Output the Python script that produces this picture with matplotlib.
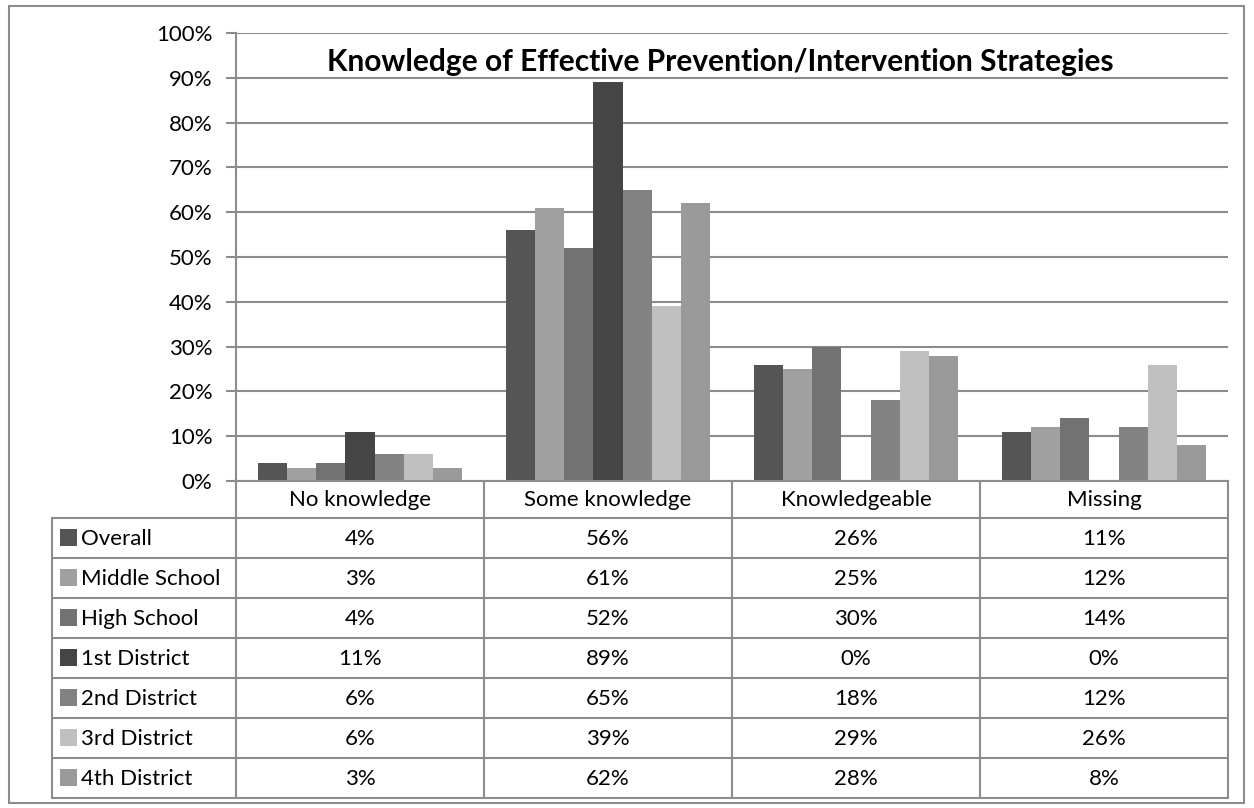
import matplotlib
matplotlib.use("Agg")
import matplotlib.pyplot as plt
from matplotlib.patches import Rectangle

# response categories and groups
categories = ["No knowledge", "Some knowledge", "Knowledgeable", "Missing"]
groups = ["Overall", "Middle School", "High School", "1st District",
          "2nd District", "3rd District", "4th District"]

# percent of respondents per group, one list per category column
overall = [4, 56, 26, 11]
middle_school = [3, 61, 25, 12]
high_school = [4, 52, 30, 14]
district_1 = [11, 89, 0, 0]
district_2 = [6, 65, 18, 12]
district_3 = [6, 39, 29, 26]
district_4 = [3, 62, 28, 8]

series = [overall, middle_school, high_school, district_1,
          district_2, district_3, district_4]
shades = ["#555555", "#a0a0a0", "#727272", "#454545",
          "#828282", "#c0c0c0", "#9a9a9a"]

yticks = list(range(0, 101, 10))

FONT = "Lato"
FS = 16
LINE = "#8c8c8c"
W, H = 1254, 808


def fx(px):
    return px / W


def fy(py):
    return 1 - py / H


fig = plt.figure(figsize=(12.54, 8.08), dpi=100)
fig.patch.set_facecolor("white")

# chart border
fig.patches.append(Rectangle((fx(9), fy(803)), fx(1244) - fx(9), fy(6) - fy(803),
                             transform=fig.transFigure, fill=False,
                             edgecolor=LINE, linewidth=1.5))

# bar area
left, right, top, base = 236, 1228, 33, 481
ax = fig.add_axes([fx(left), fy(base), fx(right) - fx(left), fy(top) - fy(base)])
n = len(series)
bw = 0.826 / n
for i, (vals, c) in enumerate(zip(series, shades)):
    xs = [k - 0.413 + bw * (i + 0.5) for k in range(len(categories))]
    ax.bar(xs, vals, width=bw, color=c, edgecolor="none", zorder=3)

ax.set_xlim(-0.5, len(categories) - 0.5)
ax.set_ylim(0, 100)
ax.set_yticks(yticks)
ax.set_yticklabels([f"{t}%" for t in yticks], fontsize=FS, family=FONT)
ax.set_xticks([])
ax.yaxis.grid(True, color=LINE, linewidth=1.5, zorder=0)
ax.tick_params(axis="y", length=7, width=1.5, color=LINE, pad=10)
for s in ["top", "right", "bottom"]:
    ax.spines[s].set_visible(False)
ax.spines["left"].set_color(LINE)
ax.spines["left"].set_linewidth(1.5)

fig.text(fx(720), fy(62), "Knowledge of Effective Prevention/Intervention Strategies",
         ha="center", va="center", fontsize=21.5, fontweight="bold", family=FONT)

# data table under the bars
tleft, tbot = 52, 798
hdr_bot = 518
row_h = (tbot - hdr_bot) / len(groups)
colw = (right - left) / len(categories)

tab = fig.add_axes([0, 0, 1, 1])
tab.set_xlim(0, W)
tab.set_ylim(H, 0)
tab.axis("off")
tab.patch.set_alpha(0)

lw = 1.5
# header row and column lines
tab.plot([left, right], [base, base], color=LINE, lw=lw)
for k in range(len(categories) + 1):
    x = left + k * colw
    tab.plot([x, x], [base, tbot], color=LINE, lw=lw)
for k, cat in enumerate(categories):
    tab.text(left + (k + 0.5) * colw, (base + hdr_bot) / 2 + 1, cat,
             ha="center", va="center", fontsize=FS, family=FONT)

# group rows
tab.plot([tleft, tleft], [hdr_bot, tbot], color=LINE, lw=lw)
for r in range(len(groups) + 1):
    y = hdr_bot + r * row_h
    tab.plot([tleft, right], [y, y], color=LINE, lw=lw)

for r, (g, vals, c) in enumerate(zip(groups, series, shades)):
    yc = hdr_bot + (r + 0.5) * row_h
    tab.add_patch(Rectangle((60, yc - 9), 17, 17, facecolor=c, edgecolor="none"))
    tab.text(81, yc + 1, g, ha="left", va="center", fontsize=FS, family=FONT)
    for k, v in enumerate(vals):
        tab.text(left + (k + 0.5) * colw, yc + 1, f"{v}%",
                 ha="center", va="center", fontsize=FS, family=FONT)

fig.savefig("out.png", dpi=100, facecolor="white")
